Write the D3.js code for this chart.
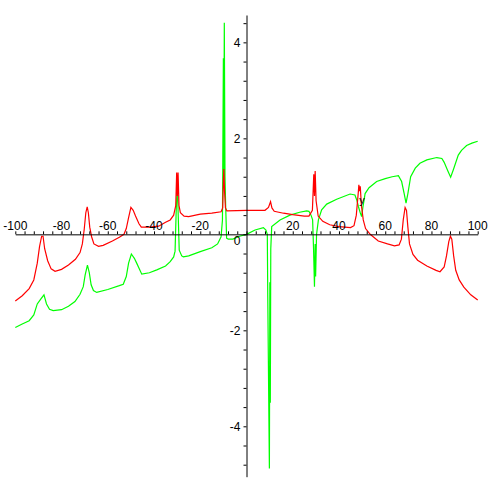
<!DOCTYPE html>
<html><head><meta charset="utf-8">
<script src="https://cdn.jsdelivr.net/npm/d3@7"></script>
<style>html,body{margin:0;padding:0;background:#fff;}svg{display:block;}</style>
</head><body>
<script>
// Red curve (x, y)
const redX = [-100,-97,-94,-92,-90.5,-89.5,-88.6,-88,-87.3,-86,-84.5,-82.8,-80,-77,-74,-72,-71,-70.2,-69.5,-68.9,-68.4,-67.8,-67,-66,-64,-62,-58,-55,-53,-52,-51,-50,-49,-48,-46.5,-45.5,-42,-38,-35,-33,-31.5,-30.6,-30.2,-29.9,-29.6,-29.2,-28.6,-27,-25,-20,-15,-11,-10.3,-10.0,-9.8,-9.5,-9.1,-8.5,0,8,9.5,10.4,11,12,16,20,25,27,28.5,29.1,29.4,29.7,30.1,31,33,36,40,45,46.5,47.5,48.4,48.6,48.9,49.2,49.7,50.5,51.5,53.5,57,61,64,66,67,67.8,68.6,69.2,69.8,70.5,72,74,78,82,83.7,85.5,86.5,87.5,88.2,88.8,89.6,90.5,92,94,97,100];
const redY = [-1.39,-1.28,-1.13,-0.95,-0.6,-0.25,-0.04,-0.04,-0.3,-0.55,-0.72,-0.77,-0.73,-0.64,-0.52,-0.38,-0.2,0.1,0.45,0.57,0.45,0.15,-0.05,-0.2,-0.25,-0.23,-0.14,-0.06,0.0,0.12,0.35,0.56,0.5,0.38,0.22,0.15,0.15,0.17,0.25,0.3,0.4,0.6,1.29,0.8,1.29,0.6,0.45,0.38,0.37,0.42,0.44,0.47,0.55,1.1,1.36,0.9,0.55,0.49,0.5,0.5,0.56,0.68,0.55,0.48,0.44,0.41,0.38,0.38,0.5,1.25,0.8,1.32,0.7,0.38,0.27,0.2,0.16,0.14,0.18,0.4,0.9,1.03,0.9,1.0,0.6,0.3,0.12,0.0,-0.14,-0.2,-0.24,-0.22,-0.1,0.3,0.56,0.5,0.15,-0.2,-0.42,-0.54,-0.66,-0.75,-0.78,-0.68,-0.45,-0.15,-0.04,-0.1,-0.45,-0.75,-0.95,-1.1,-1.26,-1.37];
// Green curve (x, y)
const greenX = [-100,-97,-94,-92,-90.5,-89,-87.6,-86.5,-85.2,-83.6,-80,-77,-74.2,-72,-70.6,-69.8,-68.8,-68,-67.2,-66.2,-64.8,-60,-55,-53.3,-52,-51,-49.8,-48.5,-47.5,-45.3,-42,-38.8,-35,-33,-31.5,-30.9,-30.4,-29.9,-29.6,-29.1,-28,-27.3,-25,-20,-15,-12.5,-11,-10.4,-10.0,-9.85,-9.6,-9.3,-9.0,-8.6,-7.9,-5.9,-3,0,3.7,7.3,8.4,9.0,9.2,9.9,10.1,10.3,10.5,10.9,14.5,18.8,23,26,27,27.9,28.6,29.0,29.4,29.7,29.9,30.3,31.1,32.5,34.7,39,44.8,46.9,47.8,48.4,49.2,49.8,50.3,51.3,53,56.3,60,63,65.7,67.1,68.2,69,69.8,71,73,75,78,82.3,84.5,85.5,87,88.3,89.5,91.6,93,95.2,97.5,100];
const greenY = [-1.94,-1.87,-1.8,-1.68,-1.45,-1.35,-1.26,-1.45,-1.56,-1.59,-1.57,-1.5,-1.4,-1.25,-1.09,-0.85,-0.64,-0.8,-1.05,-1.17,-1.21,-1.15,-1.07,-1.04,-0.88,-0.6,-0.41,-0.5,-0.6,-0.83,-0.8,-0.74,-0.66,-0.57,-0.47,-0.35,0.5,1.06,0.5,-0.33,-0.45,-0.47,-0.45,-0.36,-0.28,-0.2,-0.05,0.3,3.67,1.0,4.41,1.2,0.57,-0.08,-0.1,-0.1,-0.04,0.0,0.09,0.14,0.09,0.0,-1.3,-4.88,-1.0,-3.51,-0.3,0.16,0.3,0.4,0.46,0.49,0.48,0.4,0.3,-0.3,-1.09,-0.2,-0.88,0.0,0.3,0.51,0.63,0.73,0.84,0.82,0.7,0.58,0.45,0.37,0.55,0.85,0.97,1.1,1.16,1.2,1.22,1.1,0.85,0.65,0.85,1.2,1.38,1.48,1.55,1.6,1.58,1.5,1.33,1.19,1.35,1.65,1.75,1.85,1.9,1.94];
const xTickValues = d3.range(-100, 101, 4);
const xLabels = [-100,-80,-60,-40,-20,20,40,60,80,100];
const yTickValues = d3.range(-12, 12).map(i => +(i*0.4).toFixed(1));
const yLabels = [-4,-2,0,2,4];

const W = 492, H = 492;
const svg = d3.select("body").append("svg").attr("width", W).attr("height", H);
const x = d3.scaleLinear().domain([-100, 100]).range([15.3, 477.7]);
const y = d3.scaleLinear().domain([-5.05, 4.57]).range([476.7, 15]);

const line = d3.line().x(d => x(d[0])).y(d => y(d[1]));
const redData = redX.map((v, i) => [v, redY[i]]);
const greenData = greenX.map((v, i) => [v, greenY[i]]);

svg.append("path").datum(greenData).attr("d", line)
  .attr("fill", "none").attr("stroke", "#00ff00").attr("stroke-width", 1.2);
svg.append("path").datum(redData).attr("d", line)
  .attr("fill", "none").attr("stroke", "#ff0000").attr("stroke-width", 1.2);

// X axis
const xAxis = d3.axisTop(x).tickValues(xTickValues).tickSize(3).tickSizeOuter(0).tickFormat("");
const gx = svg.append("g").attr("transform", `translate(0,${y(0)})`).call(xAxis);
gx.select(".domain").attr("stroke", "#000");
gx.selectAll(".tick line").attr("stroke", "#000");
svg.append("g").selectAll("text").data(xLabels).join("text")
  .attr("x", d => x(d)).attr("y", y(0) - 4.5)
  .attr("text-anchor", "middle")
  .attr("font-family", "Liberation Sans, Arial, sans-serif").attr("font-size", 12)
  .text(d => d);

// Y axis
const yAxis = d3.axisLeft(y).tickValues(yTickValues).tickSize(3).tickSizeOuter(0).tickFormat("");
const gy = svg.append("g").attr("transform", `translate(${x(0)},0)`).call(yAxis);
gy.select(".domain").attr("stroke", "#000");
gy.selectAll(".tick line").attr("stroke", "#000");
svg.append("g").selectAll("text").data(yLabels).join("text")
  .attr("x", x(0) - 6).attr("y", d => d === 0 ? y(0) + 11 : y(d) + 4.5)
  .attr("text-anchor", "end")
  .attr("font-family", "Liberation Sans, Arial, sans-serif").attr("font-size", 12)
  .text(d => d);

// axis name label
svg.append("text").attr("x", 362).attr("y", 204).attr("text-anchor", "middle")
  .attr("font-family", "Liberation Sans, Arial, sans-serif").attr("font-size", 11)
  .text("y");
</script>
</body></html>
